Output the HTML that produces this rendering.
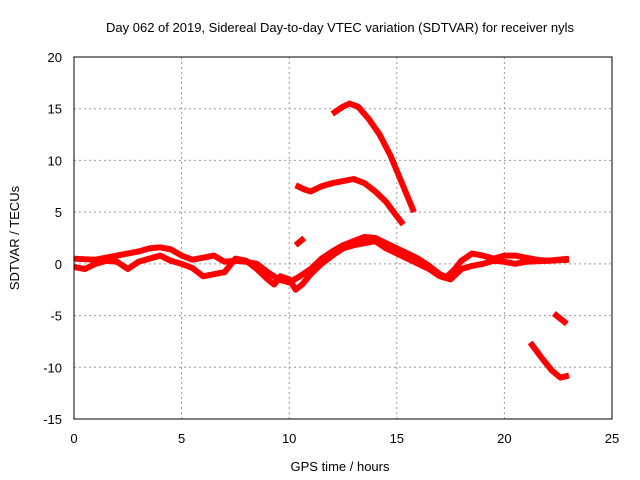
<!DOCTYPE html>
<html><head><meta charset="utf-8"><style>
body{margin:0;background:#fff;}
svg{display:block;font-family:"Liberation Sans",sans-serif;}
</style></head><body>
<svg id="chart" width="640" height="480">
<rect x="0" y="0" width="640" height="480" fill="#fff"/>
<text x="340" y="32" font-size="13" text-anchor="middle">Day 062 of 2019, Sidereal Day-to-day VTEC variation (SDTVAR) for receiver nyls</text>
<text x="340" y="471" font-size="13" text-anchor="middle">GPS time / hours</text>
<text transform="translate(19,238) rotate(-90)" font-size="13" text-anchor="middle">SDTVAR / TECUs</text>
<g id="grid"></g><g id="series"></g>
<rect x="74" y="57" width="538" height="362" fill="none" stroke="#000" stroke-width="1"/>
</svg>
<script>
const xTicks=[0,5,10,15,20,25];
const yTicks=[-15,-10,-5,0,5,10,15,20];
const seriesLowT=[0,0.5,1,1.5,2,2.5,3,3.5,4,4.5,5,5.5,6,6.5,7,7.5,8,8.5,9,9.3,9.6,10,10.3,10.6,11,11.5,12,12.5,13,13.5,14,14.5,15,15.5,16,16.5,17,17.5,18,18.5,19,19.5,20,20.5,21,22,23];
const seriesLowV=[-0.3,-0.5,0,0.3,0.2,-0.5,0.2,0.5,0.8,0.3,0,-0.4,-1.2,-1,-0.8,0.5,0.3,-0.5,-1.5,-2,-1.2,-1.5,-2.5,-2,-1,0,0.8,1.5,1.8,2,2.2,1.5,1,0.5,0,-0.5,-1.2,-1.5,-0.5,-0.2,0,0.3,0.2,0,0.2,0.3,0.4];
const seriesHighT=[0,1,2,3,3.5,4,4.5,5,5.5,6,6.5,7,7.5,8,8.5,9,9.5,10,10.5,11,11.5,12,12.5,13,13.5,14,14.5,15,15.5,16,16.5,17,17.3,17.7,18,18.5,19,19.5,20,20.5,21,21.5,22,22.5,23];
const seriesHighV=[0.5,0.4,0.8,1.2,1.5,1.6,1.4,0.8,0.4,0.6,0.8,0.2,0.3,0.2,0,-0.8,-1.5,-1.8,-1.2,-0.5,0.5,1.2,1.8,2.2,2.6,2.5,2,1.5,1,0.5,-0.2,-1,-1.3,-0.5,0.3,1,0.8,0.5,0.8,0.8,0.6,0.4,0.3,0.4,0.5];
const seg3T=[10.3,10.7], seg3V=[1.8,2.5];
const seg4T=[10.3,10.7,11,11.5,12,12.5,13,13.5,14,14.5,15,15.3];
const seg4V=[7.6,7.2,7,7.5,7.8,8,8.2,7.8,7,6,4.6,3.8];
const seg5T=[12,12.5,12.8,13.2,13.7,14.2,14.7,15.2,15.8];
const seg5V=[14.5,15.2,15.5,15.2,14,12.5,10.5,8,5];
const seg6T=[21.2,21.7,22.2,22.6,23], seg6V=[-7.6,-9,-10.3,-11,-10.8];
const seg7T=[22.3,22.9], seg7V=[-4.8,-5.8];
const NS="http://www.w3.org/2000/svg";
const X=t=>74+t*(538/25);
const Y=v=>57+(20-v)*(362/35);
const grid=document.getElementById('grid'), ser=document.getElementById('series');
xTicks.forEach(t=>{
 if(t>0&&t<25){const l=document.createElementNS(NS,'line');l.setAttribute('x1',X(t));l.setAttribute('x2',X(t));l.setAttribute('y1',57);l.setAttribute('y2',419);l.setAttribute('stroke','#999');l.setAttribute('stroke-dasharray','2,3');
 
 grid.appendChild(l);}
 const tx=document.createElementNS(NS,'text');tx.setAttribute('x',X(t));tx.setAttribute('y',443);tx.setAttribute('font-size','13');tx.setAttribute('text-anchor','middle');tx.textContent=t;
 
 grid.appendChild(tx);
});
yTicks.forEach(v=>{
 if(v>-15&&v<20){const l=document.createElementNS(NS,'line');l.setAttribute('x1',74);l.setAttribute('x2',612);l.setAttribute('y1',Y(v));l.setAttribute('y2',Y(v));l.setAttribute('stroke','#999');l.setAttribute('stroke-dasharray','2,3');
 
 grid.appendChild(l);}
 const tx=document.createElementNS(NS,'text');tx.setAttribute('x',62);tx.setAttribute('y',Y(v)+5);tx.setAttribute('font-size','13');tx.setAttribute('text-anchor','end');tx.textContent=v;
 
 grid.appendChild(tx);
});
function draw(T,V,name){
 const p=document.createElementNS(NS,'polyline');
 p.setAttribute('points',T.map((t,i)=>X(t)+','+Y(V[i])).join(' '));
 p.setAttribute('fill','none');p.setAttribute('stroke','#f00');p.setAttribute('stroke-width','6');p.setAttribute('stroke-linejoin','round');
 
 
 ser.appendChild(p);
}
draw(seriesLowT,seriesLowV,'series-low-band');
draw(seriesHighT,seriesHighV,'series-high-band');
draw(seg3T,seg3V,'series-segment-3');
draw(seg4T,seg4V,'series-segment-4');
draw(seg5T,seg5V,'series-segment-5');
draw(seg6T,seg6V,'series-segment-6');
draw(seg7T,seg7V,'series-segment-7');
</script>
</body></html>
